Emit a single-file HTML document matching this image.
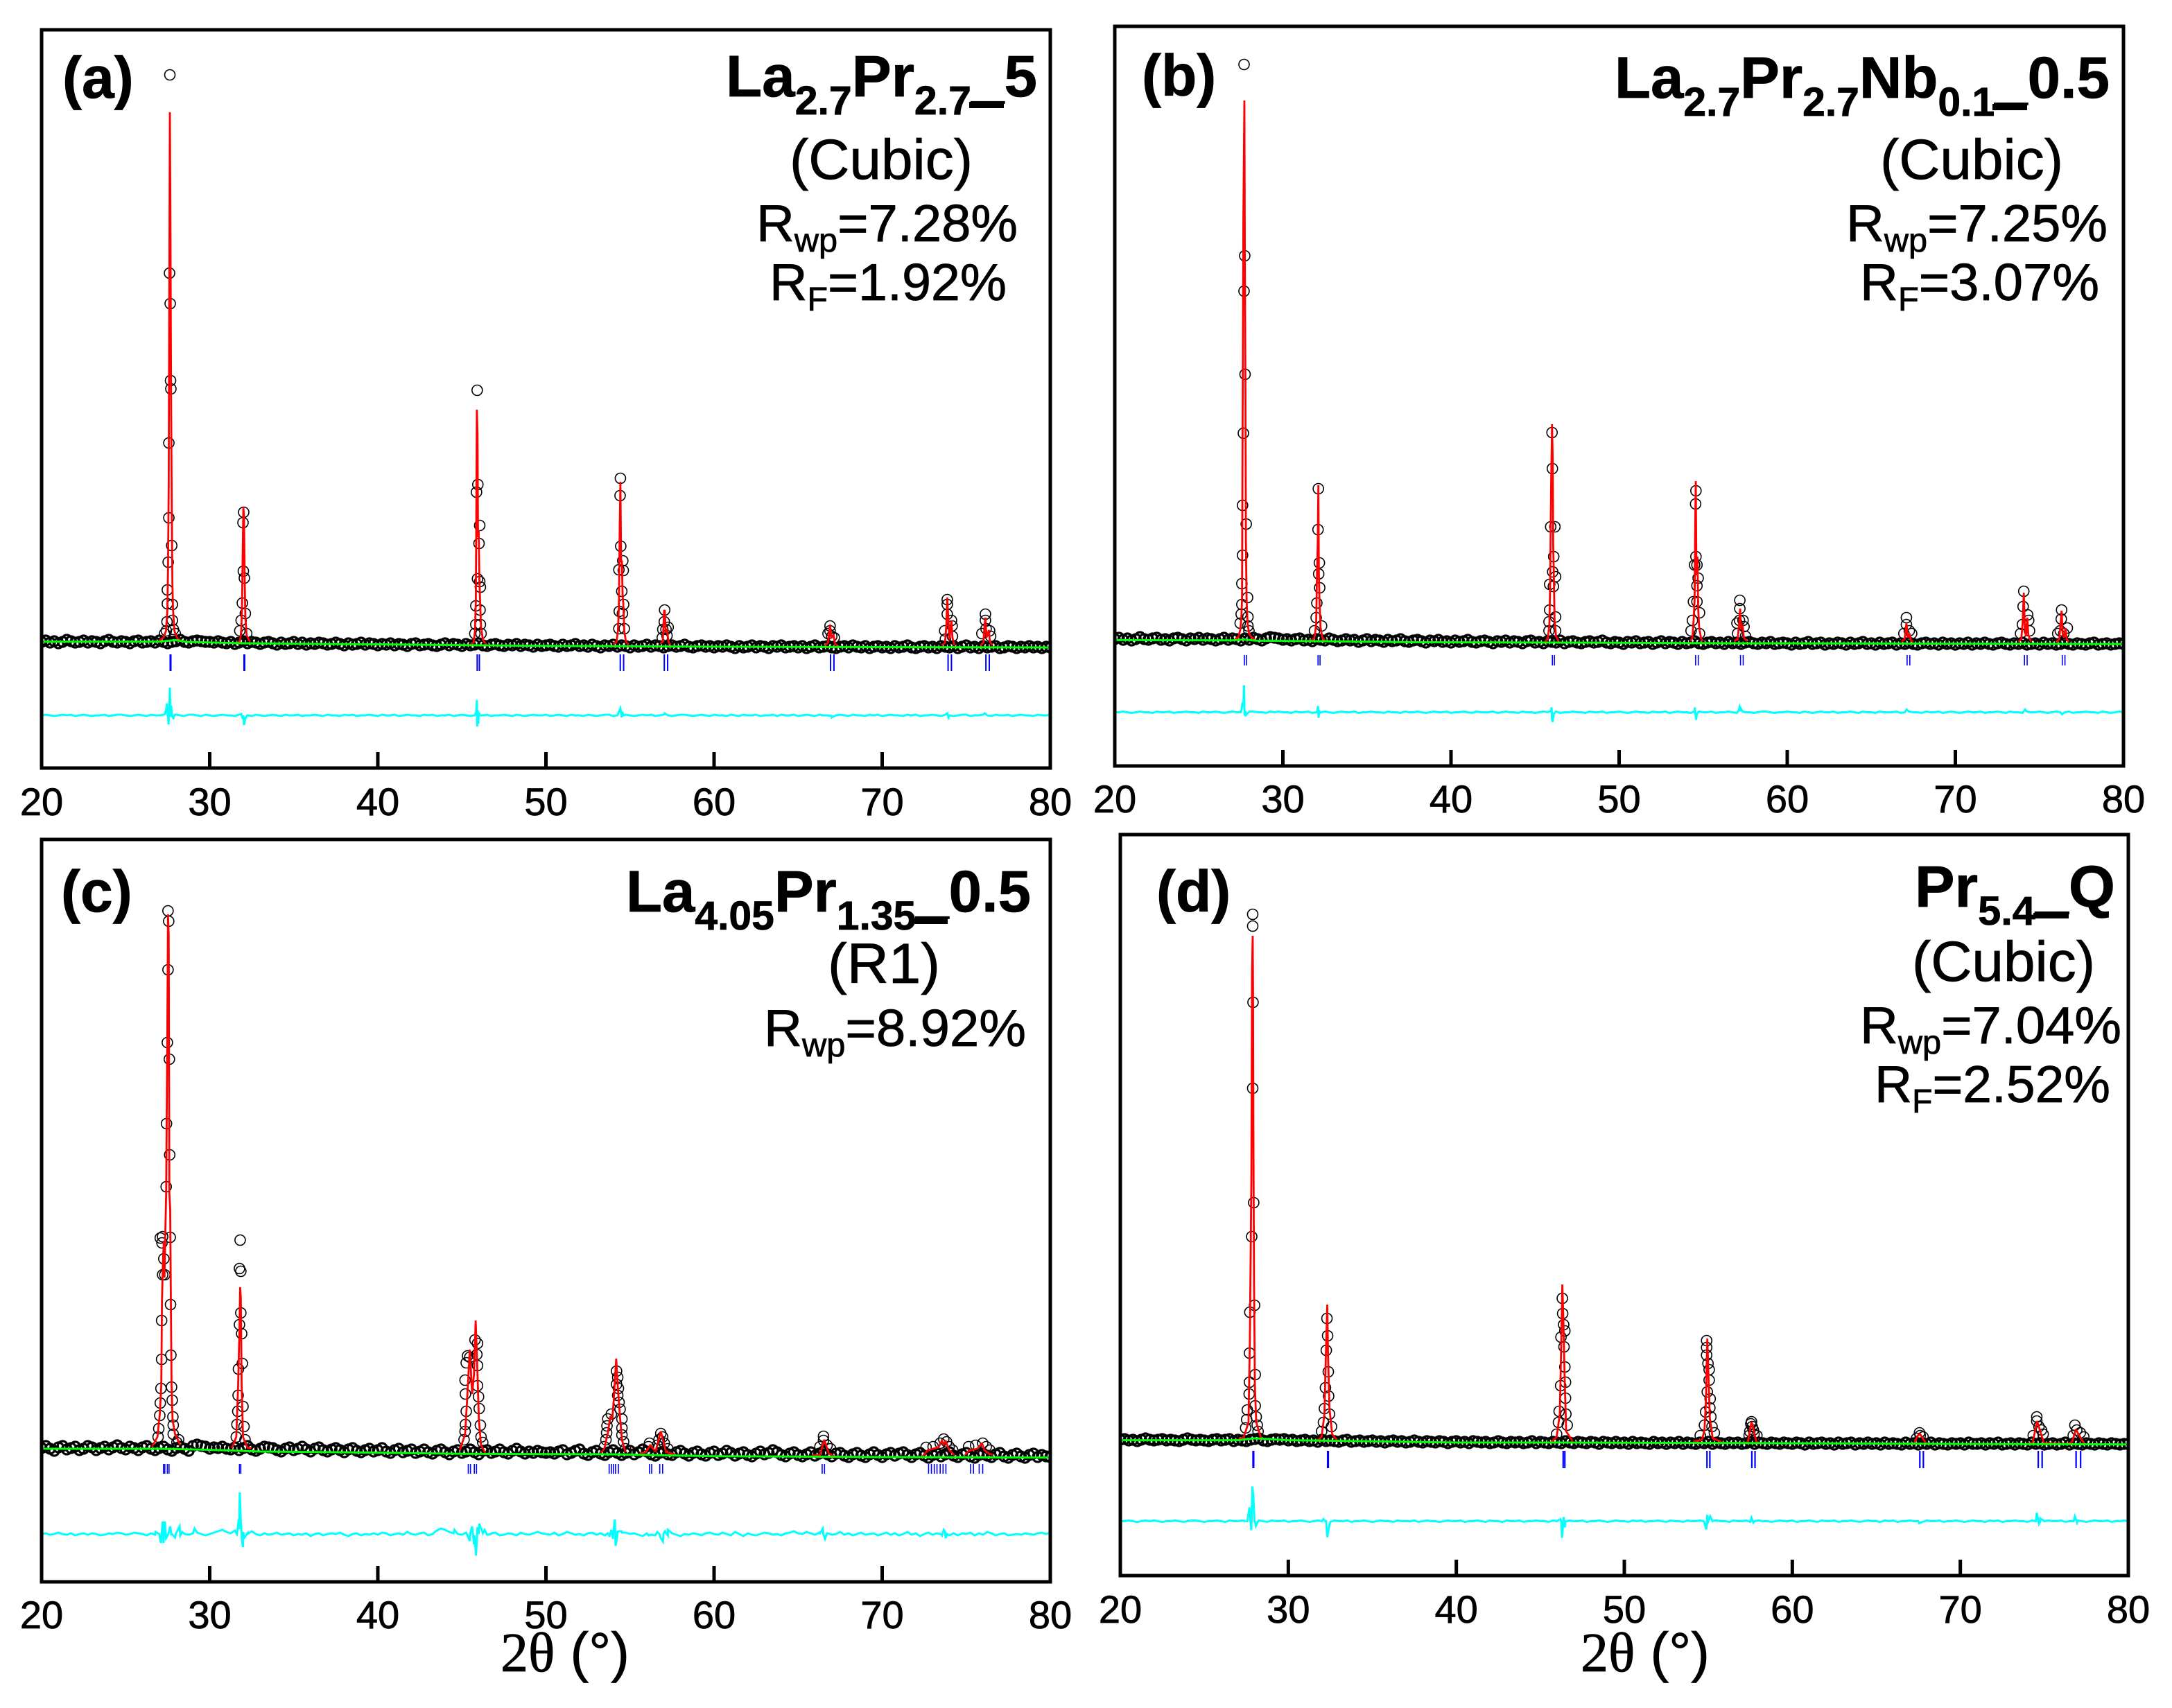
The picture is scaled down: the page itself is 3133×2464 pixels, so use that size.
<!DOCTYPE html>
<html lang="en">
<head>
<meta charset="utf-8">
<title>Rietveld refinement patterns</title>
<style>
html,body{margin:0;padding:0;background:#fff}
svg{display:block}
text{font-family:"Liberation Sans",Arial,sans-serif;fill:#000;stroke:#000;stroke-width:.8}
</style>
</head>
<body>
<svg id="figure" xmlns="http://www.w3.org/2000/svg" width="3133" height="2464" viewBox="0 0 3133 2464">
<rect width="3133" height="2464" fill="#fff"/>
<g id="plots"></g>

<g>
<text x="90" y="141" font-size="84" font-weight="700">(a)</text>
<text x="1047" y="139" font-size="84" font-weight="700" textLength="449" lengthAdjust="spacingAndGlyphs">La<tspan dy="26" font-size="58">2.7</tspan><tspan dy="-26">Pr</tspan><tspan dy="26" font-size="58">2.7</tspan><tspan dy="-26">_5</tspan></text>
<rect x="1398" y="147" width="50" height="9" fill="#000"/>
<text x="1139" y="258" font-size="82" textLength="264" lengthAdjust="spacingAndGlyphs">(Cubic)</text>
<text x="1091" y="348" font-size="75" textLength="377" lengthAdjust="spacingAndGlyphs">R<tspan dy="15" font-size="48">wp</tspan><tspan dy="-15">=7.28%</tspan></text>
<text x="1110" y="433" font-size="75" textLength="342" lengthAdjust="spacingAndGlyphs">R<tspan dy="15" font-size="48">F</tspan><tspan dy="-15">=1.92%</tspan></text>
</g>

<g>
<text x="1647" y="138" font-size="84" font-weight="700">(b)</text>
<text x="2329" y="141" font-size="84" font-weight="700" textLength="714" lengthAdjust="spacingAndGlyphs">La<tspan dy="26" font-size="58">2.7</tspan><tspan dy="-26">Pr</tspan><tspan dy="26" font-size="58">2.7</tspan><tspan dy="-26">Nb</tspan><tspan dy="26" font-size="58">0.1</tspan><tspan dy="-26">_0.5</tspan></text>
<rect x="2874" y="150" width="50" height="9" fill="#000"/>
<text x="2712" y="258" font-size="82" textLength="264" lengthAdjust="spacingAndGlyphs">(Cubic)</text>
<text x="2663" y="348" font-size="75" textLength="377" lengthAdjust="spacingAndGlyphs">R<tspan dy="15" font-size="48">wp</tspan><tspan dy="-15">=7.25%</tspan></text>
<text x="2683" y="433" font-size="75" textLength="345" lengthAdjust="spacingAndGlyphs">R<tspan dy="15" font-size="48">F</tspan><tspan dy="-15">=3.07%</tspan></text>
</g>

<g>
<text x="88" y="1315" font-size="84" font-weight="700">(c)</text>
<text x="903" y="1315" font-size="84" font-weight="700" textLength="584" lengthAdjust="spacingAndGlyphs">La<tspan dy="26" font-size="58">4.05</tspan><tspan dy="-26">Pr</tspan><tspan dy="26" font-size="58">1.35</tspan><tspan dy="-26">_0.5</tspan></text>
<rect x="1318" y="1325" width="49" height="8" fill="#000"/>
<text x="1194" y="1418" font-size="82" textLength="162" lengthAdjust="spacingAndGlyphs">(R1)</text>
<text x="1102" y="1509" font-size="75" textLength="378" lengthAdjust="spacingAndGlyphs">R<tspan dy="15" font-size="48">wp</tspan><tspan dy="-15">=8.92%</tspan></text>
</g>

<g>
<text x="1668" y="1315" font-size="84" font-weight="700">(d)</text>
<text x="2762" y="1308" font-size="84" font-weight="700" textLength="289" lengthAdjust="spacingAndGlyphs">Pr<tspan dy="26" font-size="58">5.4</tspan><tspan dy="-26">_Q</tspan></text>
<rect x="2933" y="1317" width="51" height="8" fill="#000"/>
<text x="2758" y="1415" font-size="82" textLength="264" lengthAdjust="spacingAndGlyphs">(Cubic)</text>
<text x="2683" y="1505" font-size="75" textLength="377" lengthAdjust="spacingAndGlyphs">R<tspan dy="15" font-size="48">wp</tspan><tspan dy="-15">=7.04%</tspan></text>
<text x="2704" y="1590" font-size="75" textLength="340" lengthAdjust="spacingAndGlyphs">R<tspan dy="15" font-size="48">F</tspan><tspan dy="-15">=2.52%</tspan></text>
</g>

<text x="722" y="2411" font-size="80"><tspan style="font-family:'Liberation Serif',serif">2θ</tspan> (°)</text>
<text x="2280" y="2411" font-size="80"><tspan style="font-family:'Liberation Serif',serif">2θ</tspan> (°)</text>
</svg>

<script>
const xTicks = [20, 30, 40, 50, 60, 70, 80];
const xTickLabels = ['20', '30', '40', '50', '60', '70', '80'];
const bgStart = 20;
const bgStep = 0.25;

/* ---------- panel (a) ---------- */
const aBackgroundObs = [
9,11,8,10,7,9,12,10,8,9,11,8,10,9,7,10,12,9,8,10,9,7,10,11,8,9,10,8,11,9,7,9,10,12,9,8,10,11,10,9,
9,8,10,8,7,9,6,8,10,7,9,8,6,8,9,7,5,8,6,7,9,6,8,5,7,6,8,7,5,6,8,6,4,7,5,6,8,5,7,6,
4,6,5,7,4,6,5,3,6,7,4,5,6,4,3,5,7,4,6,5,3,6,4,5,7,4,3,5,6,4,3,5,4,6,3,5,4,2,5,3,
4,5,3,2,5,3,4,6,3,4,2,5,3,1,4,3,5,2,4,3,1,4,2,3,5,2,4,3,1,3,4,2,3,5,2,1,3,4,2,3,
1,3,2,4,2,0,3,1,2,4,1,3,2,0,3,2,4,1,2,3,1,3,0,2,4,1,2,3,1,0,2,3,1,4,2,1,3,0,2,3,
1,2,0,3,1,2,4,1,0,2,3,1,2,0,3,2,1,3,0,2,4,1,2,0,3,1,2,3,0,1,3,2,0,2,1,3,1,2,0,2,1];
const aPeakTheta = [27.63,27.61,27.65,27.67,27.69,27.57,27.57,27.74,27.53,27.48,27.48,27.78,27.46,27.78,27.42,27.84,27.32,27.95,
32.02,31.98,32,32.06,31.94,32.12,31.87,32.2,31.79,
45.91,45.95,45.87,46.06,46.02,45.93,46.06,46.1,45.83,46.08,45.83,46.1,45.77,46.14,
54.43,54.41,54.45,54.57,54.34,54.6,54.51,54.62,54.36,54.55,54.34,54.66,
57.06,57.04,57.14,57.27,57.2,56.95,56.92,
66.9,66.9,67,66.78,67.15,
73.87,73.87,73.87,74.12,74.16,73.72,74.18,73.76,
76.14,76.14,76.18,76.39,76.45,75.93];
const aPeakI = [827,541,497,386,374,296,188,148,124,84,64,63,38,40,25,27,21,21,
196,181,111,101,65,50,40,21,25,
372,236,225,177,151,100,96,88,61,55,34,34,21,21,
245,220,147,126,113,112,82,63,53,50,28,28,
55,38,27,30,18,27,15,
32,25,17,21,15,
70,63,49,40,32,25,17,13,
49,40,28,25,17,21];
const aCalcTheta = [27,27.25,27.4,27.48,27.52,27.56,27.6,27.63,27.66,27.7,27.74,27.78,27.82,27.9,28.05,28.25,null,
31.7,31.82,31.88,31.92,31.96,32,32.04,32.08,32.12,32.2,32.4,null,
45.5,45.7,45.78,45.83,45.86,45.89,45.93,45.96,46,46.04,46.08,46.14,46.25,46.45,null,
54,54.2,54.28,54.34,54.39,54.43,54.47,54.52,54.56,54.6,54.66,54.75,54.9,null,
56.8,56.95,57.03,57.07,57.12,57.2,57.28,57.4,null,
66.6,66.78,66.9,66.97,67.1,67.2,67.35,null,
73.55,73.74,73.82,73.87,73.94,74,74.12,74.18,74.3,null,
75.85,76.02,76.08,76.14,76.2,76.35,76.4,76.55];
const aCalcI = [11,15,25,55,113,235,553,773,633,377,212,93,55,25,15,11,null,
8,12,28,60,130,204,190,100,45,18,9,null,
5,8,25,70,204,344,308,160,170,100,70,30,12,5,null,
6,9,25,60,178,240,125,125,75,65,25,10,5,null,
6,10,54,54,22,28,10,5,null,
4,8,34,14,20,6,3,null,
4,8,35,73,40,12,40,15,4,null,
4,8,30,44,15,26,10,4];
const aBkgTheta = [20,27,28,28.6,32,40,50,60,80];
const aBkgI = [9.4,9.4,11.6,9,7,5.5,3.2,2,1];
const aBragg = [27.65,27.69,32.04,32.08,45.91,46.04,54.42,54.62,57.04,57.24,66.93,67.13,73.92,74.12,76.17,76.37];
const aDiffBase = [
0,1,0,-1,0,1,0,1,-1,0,1,0,-1,0,0,1,-1,0,1,1,0,-1,0,1,0,-1,1,0,0,1,-1,0,1,0,-1,1,1,0,-1,1,
0,-1,0,1,0,0,-1,1,0,0,-1,1,0,-1,0,1,0,-1,1,0,0,1,-1,0,0,1,0,-1,1,0,0,-1,1,0,1,-1,0,0,1,0,
-1,1,0,0,1,-1,0,1,0,0,-1,1,0,1,-1,0,0,1,-1,0,1,0,-1,0,1,0,1,-1,0,0,1,0,-1,1,0,-1,0,1,0,0,
1,-1,0,1,0,-1,1,0,0,-1,1,0,-1,0,1,1,-1,0,0,1,0,-1,0,1,0,1,-1,0,1,0,-1,0,1,1,0,-1,0,1,0,-1,
1,0,0,-1,1,0,-1,1,0,0,1,-1,0,0,1,-1,1,0,0,1,-1,0,1,0,-1,1,0,0,-1,0,1,0,-1,1,0,0,-1,1,0,1,
-1,0,1,0,0,-1,1,0,1,-1,0,0,1,0,-1,1,0,-1,0,1,1,-1,0,0,1,0,-1,1,0,0,1,-1,0,1,0,0,-1,1,0,0,1];
const aDiffTheta = [27.34,27.42,27.46,27.5,27.55,27.59,27.63,27.67,27.71,27.75,27.8,27.84,27.92,31.88,31.96,32.04,32.12,32.23,45.8,45.85,45.89,45.91,45.94,45.98,46.02,46.06,54.43,54.5,54.55,54.6,57.06,67,73.87,73.95,76.1];
const aDiffV = [2,10,17,8,-13,3,40,-2,14,0,-3,-4,1,2,-5,-14,-4,0,2,6,22,-16,8,-12,4,0,10,-3,5,0,3,-3,3,-3,3];

/* ---------- panel (b) ---------- */
const bBackgroundObs = [
8,10,7,9,6,8,11,8,7,9,10,7,8,6,9,10,8,6,9,8,10,7,9,8,6,8,10,7,9,8,6,9,7,10,8,6,9,11,10,9,
7,8,6,8,9,6,7,5,8,7,6,9,7,5,6,8,6,7,4,6,8,5,7,6,4,7,5,6,8,5,4,6,7,5,3,6,5,7,4,5,
3,6,4,5,7,4,3,5,6,4,2,5,4,6,3,5,4,2,5,6,3,4,2,5,4,3,6,2,4,5,3,2,4,5,3,4,6,3,2,4,
3,1,4,3,5,2,3,4,1,3,5,2,4,3,1,4,2,3,5,2,1,3,4,2,3,1,4,2,3,1,3,4,2,1,3,2,4,1,2,3,
2,0,3,1,2,4,1,2,3,0,2,1,3,2,0,3,1,2,4,1,2,0,3,1,2,3,0,2,1,3,1,0,2,3,1,2,0,3,1,2,
0,2,1,3,0,2,1,3,1,0,2,3,1,0,2,1,3,0,1,2,0,3,1,2,0,1,3,1,0,2,1,0,2,3,0,1,2,0,1,2,1];
const bPeakTheta = [27.69,27.73,27.69,27.75,27.65,27.6,27.82,27.6,27.56,27.9,27.56,27.52,27.92,27.92,27.46,27.98,
32.11,32.09,32.17,32.13,32.19,32.02,31.98,32.3,31.88,
46.01,46.03,45.93,46.18,46.11,46.05,46.22,45.87,46.09,45.87,46.22,45.83,46.22,45.83,
54.57,54.55,54.57,54.63,54.49,54.7,54.63,54.42,54.63,54.78,54.36,54.78,54.28,
57.18,57.18,57.16,57.37,57.43,57.01,57.05,57.52,
67.09,67.09,67.26,67.4,66.94,
74.07,74.03,74.3,74.36,73.99,74.41,73.88,
76.32,76.3,76.66,76.24,76.45,76.09];
const bPeakI = [837,561,510,390,305,201,174,129,88,68,58,44,40,27,31,20,
225,166,118,102,82,60,39,27,20,
306,254,170,170,127,105,98,87,84,50,40,33,20,20,
222,203,127,115,115,96,85,62,62,46,35,16,20,
64,52,35,35,26,31,16,12,
39,29,20,16,16,
77,55,43,35,29,20,16,
50,37,24,20,16,16];
const bCalcTheta = [27.15,27.35,27.47,27.53,27.57,27.6,27.65,27.71,27.74,27.77,27.8,27.84,27.9,28,28.15,28.35,null,
31.7,31.88,31.98,32.03,32.07,32.11,32.14,32.18,32.24,32.35,32.5,null,
45.6,45.75,45.85,45.9,45.95,46.01,46.05,46.08,46.12,46.16,46.25,46.4,null,
54.22,54.36,54.43,54.49,54.53,54.56,54.59,54.62,54.66,54.7,54.76,54.88,55,null,
56.85,57.05,57.14,57.2,57.26,57.34,57.42,57.6,null,
66.8,66.98,67.09,67.17,67.28,67.36,67.5,null,
73.75,73.92,74,74.07,74.13,74.2,74.28,74.34,74.5,null,
76,76.18,76.26,76.32,76.38,76.46,76.55,76.62,76.75];
const bCalcI = [8,11,22,40,65,287,616,785,544,387,150,65,30,15,10,8,null,
6,10,30,104,142,230,104,60,25,10,6,null,
5,8,28,90,219,318,268,142,96,35,12,5,null,
5,10,35,65,184,236,127,100,127,54,25,8,5,null,
5,8,30,52,22,29,10,5,null,
4,8,31,10,16,6,4,null,
4,8,30,75,25,12,39,14,4,null,
4,8,30,49,16,10,24,8,4];
const bBkgTheta = [20,27,27.7,28.4,32,38,46,57,80];
const bBkgI = [6.6,6.2,7.5,5.8,5,3.5,3,2,1];
const bBragg = [27.71,27.83,32.09,32.21,46.03,46.15,54.55,54.71,57.22,57.38,67.13,67.29,74.11,74.27,76.36,76.52];
const bDiffBase = [
0,0,1,0,-1,0,1,0,0,-1,1,0,0,1,-1,0,0,1,0,0,-1,1,0,0,1,0,-1,0,1,0,0,-1,1,1,0,0,-1,1,0,1,
0,0,-1,1,0,0,1,-1,0,0,1,0,-1,0,1,0,0,1,-1,0,0,1,0,0,-1,1,0,0,-1,1,0,0,1,0,-1,0,1,0,0,1,
-1,0,0,1,0,-1,1,0,0,0,1,-1,0,1,0,0,-1,1,0,0,-1,0,1,0,0,1,-1,0,0,1,0,0,-1,1,0,0,1,-1,0,0,
1,0,-1,0,1,0,0,-1,1,0,0,1,-1,0,1,0,0,-1,0,1,0,0,1,-1,0,0,1,0,-1,1,0,0,-1,0,1,1,0,-1,0,0,
1,0,0,-1,1,0,-1,0,1,0,0,1,-1,0,0,1,0,-1,1,0,0,-1,1,0,0,0,1,-1,0,1,0,0,-1,1,0,0,1,-1,0,1,
0,-1,0,1,0,0,1,-1,0,0,1,0,-1,1,0,0,-1,1,0,0,1,0,-1,0,1,0,0,1,-1,0,0,1,0,0,-1,1,0,-1,0,1,0];
const bDiffTheta = [27.5,27.55,27.6,27.65,27.69,27.72,27.76,27.8,32.05,32.09,32.12,32.16,32.2,45.95,45.98,46,46.04,46.08,46.12,54.45,54.5,54.54,54.58,54.62,54.7,57.1,57.17,57.25,57.35,67.1,74.15,76.35];
const bDiffV = [1,5,14,8,39,-5,2,-4,2,9,-8,3,-1,2,7,-8,-14,-8,-2,1,7,-3,-11,-3,0,2,8,5,1,4,4,-3];

/* ---------- panel (c) ---------- */
const cBackgroundObs = [
16,19,15,12,17,19,14,16,18,13,15,19,17,13,16,18,14,17,20,16,14,18,16,13,17,19,15,13,16,18,14,12,16,18,15,12,19,21,19,18,
15,17,16,18,15,14,17,13,16,19,14,12,15,18,17,16,13,11,15,17,13,15,18,14,11,15,17,13,11,14,16,13,10,14,16,12,10,13,15,11,
13,16,11,9,13,15,10,12,14,9,11,14,10,8,12,14,10,7,11,13,9,11,14,10,7,12,13,9,11,14,10,8,12,15,11,8,11,9,12,10,
9,10,8,11,13,7,9,12,14,8,6,10,12,8,6,10,13,9,6,9,12,7,10,14,11,7,5,9,11,7,6,10,12,8,5,9,11,7,5,9,
11,6,8,12,9,5,8,10,6,4,8,11,7,9,13,10,6,4,8,10,6,4,7,10,5,8,11,7,4,8,9,5,3,7,9,5,3,7,10,6,
3,7,9,5,8,10,6,3,7,9,5,2,6,8,4,7,10,5,3,7,9,4,2,6,8,5,3,7,9,4,2,6,8,4,2,6,8,3,6,4,3];
const cPeakTheta = [27.52,27.56,27.52,27.48,27.6,27.43,27.62,27.41,27.65,27.2,27.06,27.16,27.27,27.2,27.33,27.67,27.14,27.14,27.69,27.73,27.1,27.77,27.06,27.03,27.81,27.83,26.97,27.83,26.93,28.15,28.05,
31.81,31.77,31.85,31.85,31.77,31.9,31.94,31.71,31.69,31.98,31.67,31.62,32.04,31.58,32.1,
45.34,45.26,45.19,45.21,45.26,45.21,45.19,45.13,45.78,45.93,45.89,45.93,45.93,45.99,46.03,46.1,46.14,46.24,45.47,
54.2,54.27,54.2,54.31,54.27,54.35,54.41,54.52,54.52,54.52,54.62,53.89,53.68,53.63,53.61,53.57,53.47,54.73,
56.16,56.1,56.83,56.94,56.73,57.04,56.62,57.25,
66.51,66.51,66.72,66.3,66.93,
73.66,73.45,73.83,73.03,72.61,73.98,74.19,
75.98,76.19,75.56,75.14,76.4];
const cPeakI = [791,776,706,601,577,484,439,393,320,321,319,312,289,266,266,223,200,144,150,104,102,85,81,63,61,49,44,36,32,28,24,
316,275,271,211,194,181,138,130,92,76,69,50,47,32,28,
149,139,114,94,69,50,40,28,172,167,151,135,106,90,73,49,32,24,147,
127,118,108,102,92,82,72,58,45,35,25,65,58,48,38,28,18,15,
23,18,37,32,28,23,20,15,
33,27,20,18,15,
29,23,25,18,17,18,13,
23,18,20,18,13];
const cCalcTheta = [26.57,26.89,27.03,27.12,27.16,27.22,27.27,27.31,27.35,27.41,27.48,27.52,27.56,27.6,27.65,27.69,27.73,27.79,27.94,28.26,null,
31.31,31.58,31.69,31.77,31.81,31.85,31.9,31.98,32.25,32.5,null,
44.88,45.19,45.3,45.47,45.61,45.72,45.82,45.93,46.01,46.14,46.39,null,
53.26,53.47,53.68,53.84,53.95,54.05,54.18,54.27,54.39,54.52,54.73,null,
55.57,55.95,56.2,56.52,56.83,57.15,57.67,null,
65.84,66.3,66.55,66.83,67.14,null,
72.4,72.72,73.35,73.56,73.66,73.77,73.98,74.3,null,
74.93,75.14,75.66,75.94,76.08,76.36,76.57];
const cCalcI = [18,32,65,106,229,286,315,262,315,384,622,786,757,384,360,229,106,57,36,20,null,
16,32,106,188,248,233,106,32,16,16,null,
13,36,81,158,94,122,200,122,57,20,9,null,
9,15,38,62,58,92,145,105,65,28,10,null,
8,10,20,11,40,10,7,null,
5,6,28,8,4,null,
4,13,17,27,20,27,13,6,null,
6,12,15,23,13,8,6];
const cBkgTheta = [20,27,30,33,40,45,54,60,70,80];
const cBkgI = [15,15,13.5,11,9.4,7.7,7,4.3,3,2.3];
const cBragg = [27.25,27.33,27.48,27.58,31.77,31.85,45.38,45.51,45.74,45.87,53.76,53.89,54.01,54.14,54.31,56.16,56.29,56.77,56.94,66.43,66.57,72.76,72.93,73.1,73.26,73.45,73.62,73.79,75.26,75.43,75.77,75.98];
const cDiffBase = [
0,1,-1,0,2,0,-1,1,-2,0,1,-1,1,0,-2,-1,1,0,2,1,-1,0,2,1,0,-2,1,-1,0,1,-2,0,1,-2,0,-1,1,2,0,-2,
0,2,4,6,3,1,5,7,3,1,4,0,-2,1,-1,0,2,-1,0,1,-2,0,-1,1,-3,0,1,-2,0,1,0,2,-1,-3,0,1,-2,0,-1,1,
-1,2,1,-2,0,1,-1,3,0,-1,1,2,-2,0,5,8,6,3,1,0,-1,2,1,-2,0,1,-1,0,2,-2,-1,1,0,-2,2,0,-1,1,3,1,
0,-1,2,-2,0,3,1,-1,0,-2,1,2,-1,1,-2,-1,1,3,4,2,0,1,-1,-3,1,-1,-2,0,1,-2,1,-1,-3,0,-1,1,0,-2,1,2,
0,-1,2,0,-2,3,0,-3,1,-1,-2,0,2,1,-1,0,-2,1,2,4,1,0,3,1,-1,2,0,1,-1,0,3,-1,1,-2,0,2,-1,0,1,-2,
0,2,-1,1,-2,0,3,-1,1,-3,0,2,-1,1,0,3,-2,1,-2,1,0,2,-2,1,-1,3,1,-2,0,1,-2,-1,0,-1,1,0,-1,1,2,0,2];
const cDiffTheta = [26.78,27.1,27.2,27.25,27.33,27.41,27.54,27.65,27.73,27.94,28.21,28.36,29.1,31.62,31.73,31.79,31.85,31.92,31.98,32.04,32.25,44.56,45.3,45.47,45.61,45.72,45.84,45.93,46.03,46.35,46.77,53.68,53.78,53.89,53.99,54.1,54.14,54.22,54.31,54.52,56.1,56.62,56.83,56.96,57.08,57.25,57.46,66.3,66.47,66.6,66.72,73.56,73.66,73.77,73.87];
const cDiffV = [3,-13,18,-13,18,-6,0,11,-2,-5,11,3,8,0,22,60,18,-10,-19,-6,0,6,0,-10,11,-15,-31,10,15,6,1,1,-4,6,-7,21,-17,-7,4,2,-2,3,-6,-11,4,6,2,1,8,-7,1,-2,6,-6,0];

/* ---------- panel (d) ---------- */
const dBackgroundObs = [
9,10,8,9,7,9,11,9,8,9,10,8,9,8,7,9,11,9,8,9,8,7,9,10,8,9,10,7,9,8,7,9,10,11,8,7,9,10,9,10,
8,9,7,8,9,7,8,6,9,7,8,7,6,8,9,6,7,8,6,7,8,6,7,5,7,8,6,7,5,6,8,6,5,7,6,5,7,6,4,6,
7,5,6,4,7,6,5,6,4,5,7,5,4,6,5,6,4,5,7,4,6,5,4,6,5,4,7,5,4,6,5,4,6,5,3,6,5,4,6,4,
5,3,6,4,5,4,3,6,4,5,3,5,4,6,3,5,4,3,5,4,6,3,5,4,3,5,4,5,3,4,6,3,5,4,3,5,4,3,5,4,
3,5,4,2,5,3,4,5,3,4,2,5,3,4,5,2,4,3,5,3,4,2,5,3,4,3,2,5,3,4,2,4,3,5,2,4,3,2,4,3,
4,2,5,3,3,4,2,4,3,5,2,3,4,2,4,3,2,5,3,4,2,3,4,2,3,5,2,4,3,2,4,3,2,4,3,2,4,3,2,3,3];
const dPeakTheta = [27.88,27.88,27.9,27.88,27.94,27.82,27.99,27.71,27.69,28.03,27.69,27.67,28.03,27.56,28.09,27.52,28.15,27.46,28.2,
32.3,32.34,32.26,32.38,32.21,32.4,32.15,32.45,32.09,32.57,31.98,
46.31,46.33,46.39,46.46,46.23,46.41,46.46,46.5,46.21,46.5,46.52,46.12,46.08,46.6,45.97,
54.9,54.9,54.9,54.98,55.05,55.05,54.94,55.11,55.09,54.84,55.15,54.77,55.22,55.36,54.52,
57.57,57.53,57.61,57.68,57.72,57.47,57.43,57.89,
67.57,67.61,67.78,67.4,
74.55,74.55,74.68,74.83,74.34,74.93,
76.82,76.93,77.14,76.72,77.35];
const dPeakI = [767,750,640,516,351,302,203,193,134,103,92,75,58,52,42,38,30,26,21,
184,159,138,107,84,72,54,46,34,28,21,
213,191,175,166,157,143,114,92,87,69,46,50,34,30,17,
152,142,131,119,110,95,78,68,55,49,42,30,28,19,15,
35,32,28,23,17,21,15,15,
19,15,13,11,
42,36,28,23,15,17,
30,23,19,15,13];
const dCalcTheta = [27.04,27.35,27.63,27.71,27.8,27.84,27.88,27.9,27.92,27.96,28.01,28.09,28.41,null,
31.67,31.98,32.15,32.23,32.32,32.36,32.45,32.61,32.93,null,
45.66,45.97,46.16,46.25,46.31,46.37,46.46,46.54,46.92,null,
54.1,54.63,54.77,54.86,54.94,55.01,55.09,55.26,55.78,null,
57.15,57.36,57.57,57.72,57.85,58.1,null,
67.25,67.46,67.61,67.95,null,
73.88,74.3,74.57,74.76,74.97,76.3,null,
76.4,76.66,76.87,77.08,77.35];
const dCalcI = [9,13,34,152,382,681,736,660,456,234,87,34,9,null,
7,13,46,128,204,136,54,17,7,null,
6,13,46,153,233,185,87,21,7,null,
6,9,23,66,155,100,40,11,6,null,
4,6,35,21,6,4,null,
3,15,17,4,null,
3,4,36,21,4,3,null,
3,6,24,15,4];
const dBkgTheta = [20,27,28,30,40,46,55,70,80];
const dBkgI = [8.4,8.4,11,8.4,5,5,4.4,3,2.3];
const dBragg = [27.9,27.94,32.34,32.38,46.36,46.46,54.92,55.09,57.59,57.78,67.59,67.8,74.64,74.87,76.89,77.16];
const dDiffBase = [
0,0,1,0,-1,0,1,0,1,0,-1,0,0,1,0,-1,0,1,1,0,-1,0,0,1,0,-1,1,0,0,1,0,-1,0,1,0,-1,1,0,0,1,
-1,0,0,1,0,-1,0,1,0,0,-1,1,0,0,1,-1,0,0,1,0,-1,0,1,0,0,-1,1,0,0,0,1,-1,0,1,0,0,-1,0,1,0,
0,1,-1,0,0,1,0,-1,1,0,0,-1,1,0,0,1,-1,0,0,1,0,0,-1,1,0,-1,0,1,0,0,1,-1,0,0,1,0,-1,0,1,0,
0,-1,1,0,1,-1,0,0,1,0,-1,1,0,0,-1,1,0,0,1,-1,0,0,1,0,0,-1,1,0,0,1,-1,0,1,0,0,-1,0,1,0,0,
1,-1,0,0,1,0,-1,1,0,0,1,-1,0,0,1,0,-1,0,1,0,0,-1,1,0,1,-1,0,0,1,0,0,-1,1,0,0,1,-1,0,0,1,
0,-1,0,1,0,0,-1,1,0,1,-1,0,0,1,0,0,-1,1,0,-1,0,1,0,0,1,-1,0,0,1,0,-1,0,1,0,0,1,-1,0,0,1,0];
const dDiffTheta = [27.56,27.69,27.8,27.86,27.92,27.99,28.07,28.2,32.09,32.19,32.32,32.45,32.61,46.19,46.29,46.39,46.46,46.6,54.73,54.88,54.94,55.11,55.36,57.57,57.68,67.55,74.55,74.68,74.76,76.82,76.95];
const dDiffV = [0,20,-13,50,36,-1,-7,0,3,0,-23,-5,0,3,-24,6,-9,0,0,-12,9,7,1,5,-2,-3,12,-4,4,7,-2];

/* Layout of each panel (pixels); data series stay in the arrays above */
const panels = [
 {id:'a', left:60,   right:1515, top:43,   bottom:1108, zeroY:935,  diffY:1032,   braggTop:944,  braggBottom:968,  braggW:2, labelY:1176,
  bg:aBackgroundObs, peakT:aPeakTheta, peakI:aPeakI, calcT:aCalcTheta, calcI:aCalcI, bkgT:aBkgTheta, bkgI:aBkgI, bragg:aBragg, diffBase:aDiffBase, diffT:aDiffTheta, diffV:aDiffV},
 {id:'b', left:1608, right:3063, top:38,   bottom:1105, zeroY:930,  diffY:1027.5, braggTop:945,  braggBottom:960,  braggW:1.6, labelY:1172,
  bg:bBackgroundObs, peakT:bPeakTheta, peakI:bPeakI, calcT:bCalcTheta, calcI:bCalcI, bkgT:bBkgTheta, bkgI:bBkgI, bragg:bBragg, diffBase:bDiffBase, diffT:bDiffTheta, diffV:bDiffV},
 {id:'c', left:60,   right:1515, top:1211, bottom:2282, zeroY:2105, diffY:2213,   braggTop:2112, braggBottom:2126, braggW:1.6, labelY:2349,
  bg:cBackgroundObs, peakT:cPeakTheta, peakI:cPeakI, calcT:cCalcTheta, calcI:cCalcI, bkgT:cBkgTheta, bkgI:cBkgI, bragg:cBragg, diffBase:cDiffBase, diffT:cDiffTheta, diffV:cDiffV},
 {id:'d', left:1616, right:3070, top:1204, bottom:2273, zeroY:2086, diffY:2194.5, braggTop:2093, braggBottom:2118, braggW:2.2, labelY:2341,
  bg:dBackgroundObs, peakT:dPeakTheta, peakI:dPeakI, calcT:dCalcTheta, calcI:dCalcI, bkgT:dBkgTheta, bkgI:dBkgI, bragg:dBragg, diffBase:dDiffBase, diffT:dDiffTheta, diffV:dDiffV}
];

const NS = 'http://www.w3.org/2000/svg';
const plots = document.getElementById('plots');

function make(tag, attrs, parent) {
  const n = document.createElementNS(NS, tag);
  for (const k in attrs) n.setAttribute(k, attrs[k]);
  parent.appendChild(n);
  return n;
}

function linePath(thetas, values, xFn, yFn) {
  let d = '', pen = false;
  for (let i = 0; i < thetas.length; i++) {
    if (thetas[i] === null || values[i] === null) { pen = false; continue; }
    d += (pen ? 'L' : 'M') + xFn(thetas[i]).toFixed(2) + ' ' + yFn(values[i]).toFixed(2);
    pen = true;
  }
  return d;
}

panels.forEach(function (p) {
  const xScale = t => p.left + (t - 20) / 60 * (p.right - p.left);
  const yScale = i => p.zeroY - i;
  const diffScale = v => p.diffY - v;

  const panel = make('g', {}, plots);
  
  

  const clip = make('clipPath', {id: 'clip-' + p.id}, panel);
  make('rect', {x: p.left, y: p.top, width: p.right - p.left, height: p.bottom - p.top}, clip);

  const data = make('g', {'clip-path': 'url(#clip-' + p.id + ')'}, panel);
  
  

  const obs = make('g', {fill: 'none', stroke: '#000'}, data);
  
  

  p.bg.forEach(function (v, i) {
    const c = make('circle', {cx: xScale(bgStart + i * bgStep), cy: yScale(v), r: 7, 'stroke-width': 3.2}, obs);
    
    
  });
  p.peakT.forEach(function (t, i) {
    const c = make('circle', {cx: xScale(t), cy: yScale(p.peakI[i]), r: 7.5, 'stroke-width': 1.6}, obs);
    
    
  });

  const calc = make('path', {d: linePath(p.calcT, p.calcI, xScale, yScale), fill: 'none', stroke: '#ff0000', 'stroke-width': 2.8, 'stroke-linejoin': 'miter', 'stroke-miterlimit': 2}, data);
  
  

  const bkg = make('path', {d: linePath(p.bkgT, p.bkgI, xScale, yScale), fill: 'none', stroke: '#00ff00', 'stroke-width': 3}, data);
  
  

  const bragg = make('g', {stroke: '#0000ff', 'stroke-width': p.braggW}, data);
  
  
  p.bragg.forEach(function (t) {
    const b = make('line', {x1: xScale(t), x2: xScale(t), y1: p.braggTop, y2: p.braggBottom}, bragg);
    
    
  });

  const pts = p.diffBase.map((v, i) => [bgStart + i * bgStep, v]);
  p.diffT.forEach((t, i) => pts.push([t, p.diffV[i]]));
  pts.sort((m, n) => m[0] - n[0]);
  const diff = make('path', {d: linePath(pts.map(q => q[0]), pts.map(q => q[1]), xScale, diffScale), fill: 'none', stroke: '#00ffff', 'stroke-width': 3}, data);
  
  

  const frame = make('rect', {x: p.left, y: p.top, width: p.right - p.left, height: p.bottom - p.top, fill: 'none', stroke: '#000', 'stroke-width': 5}, panel);
  
  

  const axis = make('g', {}, panel);
  
  
  xTicks.forEach(function (t, i) {
    if (i > 0 && i < xTicks.length - 1) {
      const tick = make('line', {x1: xScale(t), x2: xScale(t), y1: p.bottom, y2: p.bottom - 23, stroke: '#000', 'stroke-width': 5}, axis);
      
      
    }
    const lab = make('text', {x: xScale(t), y: p.labelY, 'font-size': 56, 'text-anchor': 'middle'}, axis);
    
    
    lab.textContent = xTickLabels[i];
  });
});
</script>
</body>
</html>
